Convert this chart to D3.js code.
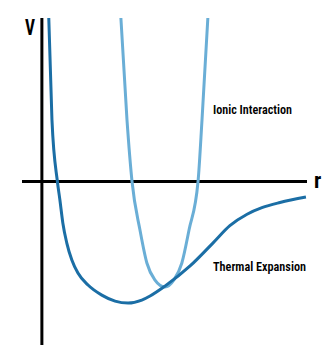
<!DOCTYPE html>
<html>
<head>
<meta charset="utf-8">
<script src="https://cdn.jsdelivr.net/npm/d3@7"></script>
<style>
  body { margin: 0; background: #fff; }
  text { font-family: "Liberation Sans Narrow", "Roboto Condensed", "DejaVu Sans Condensed", sans-serif; }
</style>
</head>
<body>
<div id="chart"></div>
<script>
// potential curves, r vs V (arbitrary units)
const thermalR = [0.26, 0.38, 0.585, 0.68, 0.79, 0.94, 1.13, 1.36, 1.74, 2.26, 2.76, 3.25, 3.77, 4.08, 4.64, 5.59, 6.45, 7.09, 7.74, 8.30, 8.98, 9.96];
const thermalV = [6.0, 2.26, 0.0, -0.68, -1.52, -2.26, -2.88, -3.36, -3.80, -4.17, -4.39, -4.46, -4.35, -4.20, -3.84, -3.10, -2.26, -1.62, -1.20, -0.96, -0.77, -0.57];

const ionicR = [2.98, 3.21, 3.40, 3.70, 3.96, 4.26, 4.64, 4.98, 5.28, 5.55, 5.89, 6.04, 6.26];
const ionicV = [6.0, 2.26, 0.0, -1.78, -2.99, -3.61, -3.87, -3.61, -2.99, -1.78, 0.0, 2.26, 6.0];

const labels = ["Ionic Interaction", "Thermal Expansion"];
const axisLabels = ["V", "r"];

const width = 333, height = 360;

const svg = d3.select("#chart").append("svg")
    .attr("width", width)
    .attr("height", height);

const x = d3.scaleLinear().domain([-0.75, 10]).range([22, 307]);
const y = d3.scaleLinear().domain([-6, 6]).range([345, 18]);

// axes
svg.append("line")
    .attr("x1", x(-0.75)).attr("x2", x(10))
    .attr("y1", y(0)).attr("y2", y(0))
    .style("stroke", "#000").style("stroke-width", 3);
svg.append("line")
    .attr("x1", x(0)).attr("x2", x(0))
    .attr("y1", y(6)).attr("y2", y(-6))
    .style("stroke", "#000").style("stroke-width", 3);

const line = d3.line()
    .x(d => x(d[0]))
    .y(d => y(d[1]))
    .curve(d3.curveMonotoneX);

svg.append("path")
    .datum(ionicR.map((r, i) => [r, ionicV[i]]))
    .attr("d", line)
    .style("fill", "none")
    .style("stroke", "#6aaed6")
    .style("stroke-width", 3);

svg.append("path")
    .datum(thermalR.map((r, i) => [r, thermalV[i]]))
    .attr("d", line)
    .style("fill", "none")
    .style("stroke", "#1b6ea5")
    .style("stroke-width", 3);

// labels
svg.append("text")
    .attr("x", 213).attr("y", 114)
    .attr("font-size", 13).attr("font-weight", 600)
    .attr("textLength", 79).attr("lengthAdjust", "spacingAndGlyphs")
    .text(labels[0]);
svg.append("text")
    .attr("x", 213).attr("y", 271)
    .attr("font-size", 13.5).attr("font-weight", 600)
    .attr("textLength", 93).attr("lengthAdjust", "spacingAndGlyphs")
    .text(labels[1]);

svg.append("text")
    .attr("x", 25).attr("y", 35)
    .attr("font-size", 22).attr("font-weight", "bold")
    .attr("textLength", 10).attr("lengthAdjust", "spacingAndGlyphs")
    .text(axisLabels[0]);
svg.append("text")
    .attr("x", 314).attr("y", 188)
    .attr("font-size", 22).attr("font-weight", "bold")
    .text(axisLabels[1]);
</script>
</body>
</html>
